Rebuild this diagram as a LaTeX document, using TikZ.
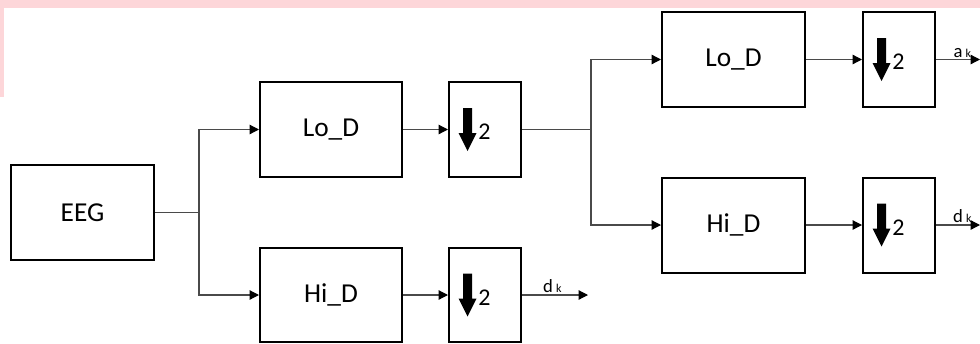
\documentclass[tikz,border=0pt]{standalone}
\usepackage{fontspec}
\setmainfont{Carlito}
\usetikzlibrary{arrows.meta,calc}
\definecolor{bandpink}{HTML}{FDD6D9}
\definecolor{wire}{HTML}{4A4A4A}
\tikzset{
  blk/.style={draw=black,line width=1.5pt,fill=white,inner sep=0pt,
    minimum height=71.25pt,font=\fontsize{20.5}{23}\selectfont},
  wideblk/.style={blk,minimum width=106.5pt},
  dsblk/.style={blk,minimum width=54pt},
  conn/.style={draw=wire,line width=0.9pt},
  arr/.style={conn,-{Triangle[length=7pt,width=7pt,fill=black,color=black]}},
  twolbl/.style={font=\fontsize{18}{19}\selectfont,inner sep=0pt},
  outlbl/.style={font=\fontsize{14}{15}\selectfont,inner sep=1pt,above},
  dsarrow/.pic={\fill[black] (-22,-21.5) -- (-13,-21.5) -- (-13,3.5) -- (-8.5,3.5)
     -- (-17.5,21.5) -- (-26.5,3.5) -- (-22,3.5) -- cycle;}
}
\newcommand{\subk}{\,{\fontsize{9}{10}\selectfont k}}
\begin{document}
\begin{tikzpicture}[x=0.75pt,y=-0.75pt]
\useasboundingbox (0,0) rectangle (980,343);
% pink band at top (cut-off page remnant)
\fill[bandpink] (0,0) rectangle (980,7.5);
\fill[bandpink] (0,0) rectangle (4,97);

% blocks
\node[blk,minimum width=107.25pt] (eeg) at (82.5,212.5) {EEG};
\node[wideblk] (lo1) at (331,129.5) {Lo\_D};
\node[dsblk] (ds1) at (485,129.5) {};
\node[wideblk,minimum height=70.5pt] (hi1) at (331,295) {Hi\_D};
\node[dsblk,minimum height=70.5pt] (ds2) at (485,295) {};
\node[wideblk,minimum width=107.25pt] (lo2) at (733.5,59.5) {Lo\_D};
\node[dsblk] (ds3) at (899,59.5) {};
\node[wideblk,minimum width=107.25pt] (hi2) at (733.5,225) {Hi\_D};
\node[dsblk] (ds4) at (899,225) {};

% downsampling symbols
\foreach \b in {ds1,ds2,ds3,ds4}{
  \pic at (\b.center) {dsarrow};
  \node[twolbl] (\b-two) at ($(\b.center)+(-0.5,2.5)$) {2};
}

% junctions and free ends
\coordinate (j1) at (199,212.5);
\coordinate (j2) at (591,129.5);
\coordinate (e1) at (588,295);
\coordinate (e2) at (980,59.5);
\coordinate (e3) at (980,225);

% connectors
\draw[conn] (eeg.east) -- (j1);
\draw[arr] (j1) |- (lo1.west);
\draw[arr] (j1) |- (hi1.west);
\draw[arr] (lo1.east) -- (ds1.west);
\draw[arr] (hi1.east) -- (ds2.west);
\draw[conn] (ds1.east) -- (j2);
\draw[arr] (j2) |- (lo2.west);
\draw[arr] (j2) |- (hi2.west);
\draw[arr] (lo2.east) -- (ds3.west);
\draw[arr] (hi2.east) -- (ds4.west);
\draw[arr] (ds2.east) -- node[outlbl,pos=0.46] (lbl1) {d\subk} (e1);
\draw[arr] (ds3.east) -- node[outlbl,pos=0.6] (lbl2) {a\subk} (e2);
\draw[arr] (ds4.east) -- node[outlbl,pos=0.6] (lbl3) {d\subk} (e3);
\end{tikzpicture}
\end{document}
